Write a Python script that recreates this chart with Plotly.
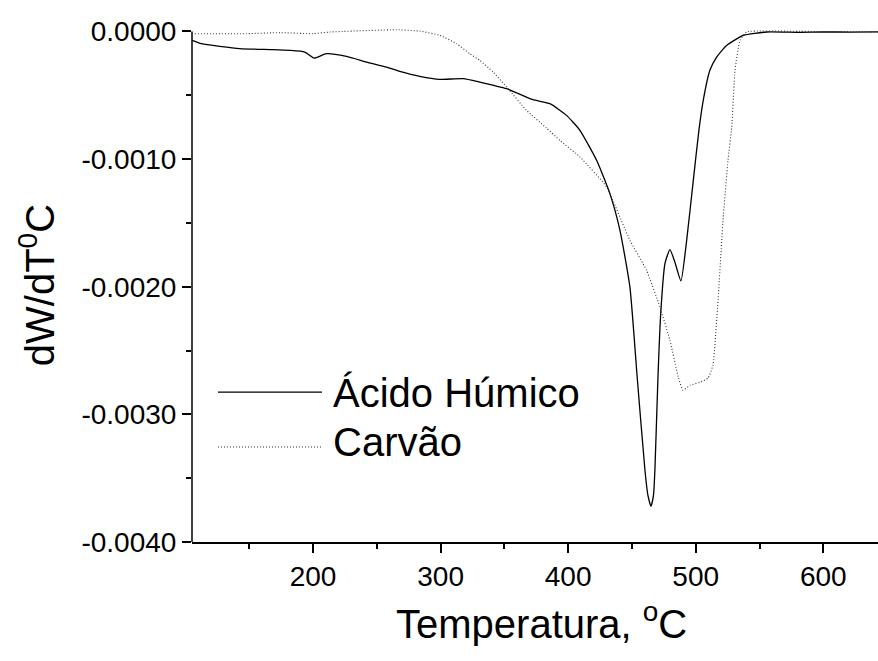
import plotly.graph_objects as go

# Ácido Húmico (solid)
acido_x = [105.4, 112.5, 142.5, 168.4, 181.7, 193.5, 200.8, 210.5, 226.2, 241.9, 257.6, 268.0,
           283.7, 299.4, 317.7, 330.7, 351.7, 372.3, 385.7, 398.7, 409.2, 422.3, 432.7, 440.6,
           448.4, 454.1, 460.2, 462.5, 464.9, 466.9, 468.0, 470.4, 472.7, 475.9, 479.8, 483.7,
           488.4, 492.9, 498.1, 502.5, 505.9, 511.1, 516.4, 524.2, 537.3, 555.6, 581.7, 600.0,
           620.9, 642.9]
acido_y = [-0.0000705, -0.0000963, -0.000135, -0.000143, -0.000149, -0.000162, -0.000209, -0.000175,
           -0.000196, -0.000240, -0.000280, -0.000313, -0.000352, -0.000376, -0.000370, -0.000397,
           -0.000449, -0.000535, -0.000566, -0.000658, -0.000775, -0.001010, -0.001271, -0.001558,
           -0.002002, -0.002707, -0.003438, -0.003633, -0.003720, -0.003633, -0.003438, -0.002709,
           -0.002185, -0.001817, -0.001709, -0.001809, -0.001955, -0.001637, -0.001167, -0.000775,
           -0.000540, -0.000305, -0.000201, -0.000110, -0.0000313, -0.000005, -0.000008, -0.000004,
           -0.000006, -0.000004]

# Carvão (dotted)
carvao_x = [107.3, 147.8, 173.9, 199.8, 213.1, 265.4, 283.7, 299.4, 312.5, 322.9, 330.7, 341.2,
            352.9, 367.4, 383.0, 393.5, 409.2, 430.1, 448.4, 461.5, 471.9, 479.8, 486.3, 490.0,
            495.5, 503.3, 509.6, 513.5, 517.5, 521.4, 525.3, 528.2, 530.8, 534.7, 540.0, 581.7,
            642.9]
carvao_y = [-0.000018, -0.000018, -0.000010, -0.000018, -0.000005, 0.000013, 0.000002, -0.000031,
            -0.000096, -0.000175, -0.000227, -0.000319, -0.000449, -0.000619, -0.000757, -0.000854,
            -0.000984, -0.001219, -0.001637, -0.001872, -0.002159, -0.002420, -0.002707, -0.002811,
            -0.002772, -0.002749, -0.002717, -0.002615, -0.002107, -0.001480, -0.001010, -0.000752,
            -0.000305, -0.0000705, -0.000004, 0.0, -0.000004]

y_tickvals = [0.0, -0.001, -0.002, -0.003, -0.004]
y_ticktext = ["0.0000", "-0.0010", "-0.0020", "-0.0030", "-0.0040"]
x_tickvals = [200, 300, 400, 500, 600]
x_ticktext = ["200", "300", "400", "500", "600"]

series_names = ["Ácido Húmico", "Carvão"]

FONT = "Liberation Sans, Arial, sans-serif"

Y_MIN, Y_MAX = -0.004, 0.00005

fig = go.Figure()
fig.add_trace(go.Scatter(x=acido_x, y=acido_y, mode="lines", name=series_names[0],
                         line=dict(color="#000000", width=1.3, shape="spline", smoothing=0.5),
                         showlegend=False))
fig.add_trace(go.Scatter(x=carvao_x, y=carvao_y, mode="lines", name=series_names[1],
                         line=dict(color="#333333", width=1.1, dash="1px,2px", shape="spline", smoothing=0.4),
                         showlegend=False))

W, H = 878, 661
L, R, B = 192, 0, 119
ZERO_PX = 31
ph0 = H - B - ZERO_PX            # pixels from 0 down to Y_MIN
T = ZERO_PX - ph0 * (Y_MAX / (0 - Y_MIN))
pw, ph = W - L - R, H - T - B

def px(xp):
    return (xp - L) / pw

def py(yp):
    return (H - B - yp) / ph

# y axis line only between the first and last tick
fig.add_shape(type="line", xref="paper", yref="y", x0=0, x1=0, y0=Y_MIN, y1=0,
              line=dict(color="#000000", width=1.5))

# manual legend
fig.add_shape(type="line", xref="paper", yref="paper", x0=px(218), x1=px(322), y0=py(392), y1=py(392),
              line=dict(color="#000000", width=1.3))
fig.add_shape(type="line", xref="paper", yref="paper", x0=px(218), x1=px(322), y0=py(447), y1=py(447),
              line=dict(color="#333333", width=1.1, dash="1px,2px"))
fig.add_annotation(text=series_names[0], xref="paper", yref="paper", x=px(331), y=py(393),
                   xanchor="left", yanchor="middle", showarrow=False,
                   font=dict(family=FONT, size=40, color="#000000"))
fig.add_annotation(text=series_names[1], xref="paper", yref="paper", x=px(331), y=py(442),
                   xanchor="left", yanchor="middle", showarrow=False,
                   font=dict(family=FONT, size=40, color="#000000"))

# axis titles
fig.add_annotation(text="dW/dT<sup>0</sup>C", xref="paper", yref="paper", x=px(37), y=py(285),
                   xanchor="center", yanchor="middle", textangle=-90, showarrow=False,
                   font=dict(family=FONT, size=40, color="#000000"))
fig.add_annotation(text="Temperatura, <sup>o</sup>C", xref="paper", yref="paper", x=px(541), y=py(621),
                   xanchor="center", yanchor="middle", showarrow=False,
                   font=dict(family=FONT, size=40, color="#000000"))

fig.update_layout(
    width=W, height=H,
    margin=dict(l=L, r=R, t=T, b=B, pad=0),
    paper_bgcolor="white", plot_bgcolor="white",
    font=dict(family=FONT, color="#000000"),
    showlegend=False,
)
fig.update_xaxes(range=[105.1, 642.9], showgrid=False, zeroline=False,
                 showline=True, linecolor="#000000", linewidth=1.5,
                 ticks="outside", ticklen=9, tickwidth=1.5, tickcolor="#000000",
                 tickvals=x_tickvals, ticktext=x_ticktext,
                 tickfont=dict(family=FONT, size=28, color="#000000"),
                 minor=dict(ticks="outside", ticklen=5, tickwidth=1.5, tickcolor="#000000",
                            dtick=50, tick0=0, showgrid=False))
fig.update_yaxes(range=[Y_MIN, Y_MAX], showgrid=False, zeroline=False,
                 showline=False,
                 ticks="outside", ticklen=9, tickwidth=1.5, tickcolor="#000000",
                 tickvals=y_tickvals, ticktext=y_ticktext,
                 tickfont=dict(family=FONT, size=28, color="#000000"),
                 minor=dict(ticks="outside", ticklen=5, tickwidth=1.5, tickcolor="#000000",
                            dtick=0.0005, tick0=0, showgrid=False))

fig.write_html("out.html")
